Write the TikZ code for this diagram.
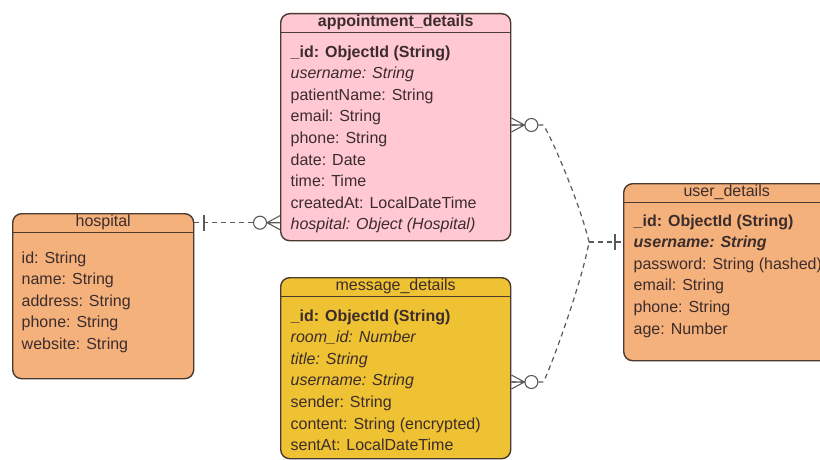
\documentclass[tikz,border=0pt]{standalone}
\usepackage{fontspec}
\setmainfont{Liberation Sans}
\usetikzlibrary{positioning}
\usetikzlibrary{calc}

\definecolor{apptpink}{HTML}{FFC8D3}
\definecolor{tableorange}{HTML}{F4B17C}
\definecolor{msgyellow}{HTML}{EEC232}
\definecolor{tableline}{HTML}{4A3A30}
\definecolor{fieldtext}{HTML}{3C2C2C}
\definecolor{relline}{HTML}{5A5A5A}

\tikzset{
	table/.style={draw=tableline, line width=1.4pt, rounded corners=9pt, anchor=north west, inner sep=0pt},
	tablehead/.style={anchor=north, minimum height=19pt, inner sep=0pt, text=fieldtext, font=\fontsize{16}{18}\selectfont},
	headline/.style={draw=tableline, line width=1.4pt},
	fields/.style={anchor=north west, align=left, inner sep=0pt, text=fieldtext, font=\fontsize{16}{21.6}\selectfont},
	rel/.style={draw=relline, line width=1.2pt, dash pattern=on 5pt off 4pt},
	zero many/.pic={
		\draw[relline, line width=1.1pt] (0,-7) -- (-13,0) -- (0,7) (-13,0) -- (0,0);
		\draw[relline, line width=1.1pt, fill=white] (-20,0) circle (6.5pt);
	},
	one bar/.pic={
		\draw[relline, line width=1.2pt] (0,-8) -- (0,8);
	}
}

\begin{document}
\begin{tikzpicture}[x=1pt, y=-1pt]
	\clip (0,0) rectangle (820,460);

	% tables
	\node [table, fill=tableorange, minimum width=181pt, minimum height=165pt] (hosp) at (12,213) {};
	\node [tablehead, minimum width=181pt] (hosp head) at (hosp.north) {hospital};
	\draw [headline] (hosp head.south west) -- (hosp head.south east);
	\node [fields, below right=19pt and 9pt of hosp head.south west] (hosp fields) {id: String\\
		name: String\\
		address: String\\
		phone: String\\
		website: String};

	\node [table, fill=apptpink, minimum width=230pt, minimum height=227pt] (appt) at (280,13) {};
	\node [tablehead, minimum width=230pt, font=\fontsize{16}{18}\selectfont\bfseries] (appt head) at (appt.north) {appointment\_details};
	\draw [headline] (appt head.south west) -- (appt head.south east);
	\node [fields, below right=13pt and 10pt of appt head.south west] (appt fields) {\textbf{\_id: ObjectId (String)}\\
		\textit{username: String}\\
		patientName: String\\
		email: String\\
		phone: String\\
		date: Date\\
		time: Time\\
		createdAt: LocalDateTime\\
		\textit{hospital: Object (Hospital)}};

	\node [table, fill=msgyellow, minimum width=230pt, minimum height=181pt] (msg) at (280,277) {};
	\node [tablehead, minimum width=230pt] (msg head) at (msg.north) {message\_details};
	\draw [headline] (msg head.south west) -- (msg head.south east);
	\node [fields, below right=13pt and 10pt of msg head.south west] (msg fields) {\textbf{\_id: ObjectId (String)}\\
		\textit{room\_id: Number}\\
		\textit{title: String}\\
		\textit{username: String}\\
		sender: String\\
		content: String (encrypted)\\
		sentAt: LocalDateTime};

	\node [table, fill=tableorange, minimum width=206pt, minimum height=177pt] (user) at (623,183) {};
	\node [tablehead, minimum width=206pt] (user head) at (user.north) {user\_details};
	\draw [headline] (user head.south west) -- (user head.south east);
	\node [fields, below right=12pt and 10pt of user head.south west] (user fields) {\textbf{\_id: ObjectId (String)}\\
		\textbf{\textit{username: String}}\\
		password: String (hashed)\\
		email: String\\
		phone: String\\
		age: Number};

	% relations
	\coordinate (appt hosp) at (appt.west |- hosp head.east);
	\coordinate (appt many) at ($(appt.north east)+(0,112)$);
	\coordinate (msg many) at ($(msg.north east)+(0,105)$);
	\coordinate (user one) at ($(user.north west)+(0,59)$);
	\coordinate (fork) at ($(user one)+(-34,0)$);

	\draw [rel] (hosp head.east) -- (appt hosp);
	\draw [rel] (appt many) -- ++(32,0) .. controls +(9,14) and +(-9,-38) .. (fork);
	\draw [rel] (msg many) -- ++(32,0) .. controls +(8,-16) and +(-7,40) .. (fork);
	\draw [rel] (fork) -- (user one);

	\path ([xshift=10pt]hosp head.east) pic {one bar};
	\path (appt hosp) pic {zero many};
	\path (appt many) pic [rotate=180] {zero many};
	\path (msg many) pic [rotate=180] {zero many};
	\path ([xshift=-8pt]user one) pic {one bar};
\end{tikzpicture}
\end{document}
